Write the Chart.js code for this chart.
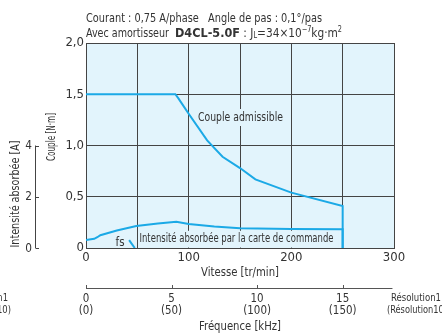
<!DOCTYPE html>
<html><head><meta charset="utf-8">
<script src="https://cdn.jsdelivr.net/npm/chart.js@4/dist/chart.umd.min.js"></script>
<style>html,body{margin:0;padding:0;background:#fff}#wrap{width:442px;height:334px}</style>
</head><body><div id="wrap"><canvas id="c" width="442" height="334"></canvas></div>
<script>
// Data
const torqueSpeed = [0, 87, 90, 100, 118, 133, 150, 165, 200, 250, 250];
const torqueValues = [1.5, 1.5, 1.46, 1.31, 1.05, 0.89, 0.78, 0.67, 0.54, 0.41, 0];
const currentSpeed = [0, 8, 11, 14, 30, 49, 70, 88, 100, 125, 150, 200, 250, 250];
const currentValues = [0.31, 0.36, 0.42, 0.5, 0.68, 0.86, 0.96, 1.02, 0.94, 0.84, 0.77, 0.74, 0.73, 0];
const fsSpeed = [42, 47.5];
const fsValues = [0.31, 0];
const yTicks = [0, 0.5, 1.0, 1.5, 2.0];
const xTickLabels = [0, 100, 200, 300];
const currentTicks = [0, 2, 4];
const freqTicks = [0, 5, 10, 15];
const freqAltTicks = ['(0)', '(50)', '(100)', '(150)'];

const NARROW = '"DejaVu Sans Condensed", "Liberation Sans Narrow", sans-serif';
const TXT = '#333';
const LINE = '#1BA9E6';
const BG = '#E2F4FC';
Chart.defaults.font.family = NARROW;
Chart.defaults.color = TXT;

const pts = (xs, ys) => xs.map((x, i) => ({x, y: ys[i]}));

// draw text horizontally squeezed: either fit to width w, or by factor k
function txt(ctx, t, x, y, o) {
  o = o || {};
  const m = ctx.measureText(t).width;
  const s = o.w ? o.w / m : (o.k || 1);
  ctx.save();
  ctx.translate(x, y);
  if (o.rot) ctx.rotate(o.rot);
  ctx.scale(s, 1);
  ctx.textAlign = o.align || 'left';
  ctx.fillText(t, 0, 0);
  ctx.restore();
  return m * s;
}

const deco = {
  id: 'deco',
  beforeDraw(chart) {
    const {ctx, chartArea: a} = chart;
    ctx.save();
    ctx.fillStyle = BG;
    ctx.fillRect(a.left, a.top, a.right - a.left, a.bottom - a.top);
    ctx.restore();
  },
  beforeDatasetsDraw(chart) {
    const {ctx} = chart;
    const x = chart.scales.x, y = chart.scales.y;
    ctx.save();
    ctx.fillStyle = BG;
    ctx.fillRect(x.getPixelForValue(50) + 1, 230.8, 200, y.getPixelForValue(0) - 231.3);
    ctx.fillRect(197, 109, 88, 17);
    ctx.fillStyle = TXT;
    ctx.textBaseline = 'middle';
    ctx.font = '13px ' + NARROW;
    txt(ctx, 'Couple admissible', 198, 117.5, {w: 85});
    ctx.font = '13px ' + NARROW;
    txt(ctx, 'Intensité absorbée par la carte de commande', 139.5, 238.5, {w: 194});
    txt(ctx, 'fs', 115.5, 242.5, {w: 9});
    ctx.restore();
  },
  afterDraw(chart) {
    const {ctx} = chart;
    const x = chart.scales.x, y2 = chart.scales.y2;
    ctx.save();
    ctx.fillStyle = TXT;
    ctx.strokeStyle = '#444';
    ctx.lineWidth = 1;
    // titles
    ctx.textBaseline = 'alphabetic';
    ctx.font = '13px ' + NARROW;
    txt(ctx, 'Courant : 0,75 A/phase   Angle de pas : 0,1°/pas', 86, 21.5, {w: 236});
    const by = 36.5;
    ctx.font = '13px ' + NARROW;
    txt(ctx, 'Avec amortisseur', 86, by, {w: 83});
    ctx.font = 'bold 12px "DejaVu Sans", sans-serif';
    txt(ctx, 'D4CL-5.0F', 175, by, {w: 65});
    const rest = [[' : J', 13, 0], ['L', 8, 1], ['=34×10', 13, 0], ['−7', 8, -5], ['kg·m', 13, 0], ['2', 8, -5]];
    let nat = 0;
    rest.forEach(r => { ctx.font = r[1] + 'px ' + NARROW; nat += ctx.measureText(r[0]).width; });
    const k = 102 / nat;
    let cx = 240;
    rest.forEach(r => { ctx.font = r[1] + 'px ' + NARROW; cx += txt(ctx, r[0], cx, by + r[2], {k}); });

    // current axis (left)
    const ax = 35.5;
    ctx.beginPath();
    ctx.moveTo(ax, y2.getPixelForValue(0));
    ctx.lineTo(ax, y2.getPixelForValue(4));
    currentTicks.forEach(v => {
      const py = Math.round(y2.getPixelForValue(v)) + 0.5;
      ctx.moveTo(ax, py); ctx.lineTo(ax + 3.5, py);
    });
    ctx.stroke();
    ctx.font = '13px ' + NARROW;
    ctx.textBaseline = 'middle';
    currentTicks.forEach(v => txt(ctx, String(v), 32, y2.getPixelForValue(v) + (v === 0 ? 1 : 0), {align: 'right', k: 0.9}));

    // rotated axis titles
    ctx.font = '13px ' + NARROW;
    txt(ctx, 'Intensité absorbée [A]', 16, 194, {align: 'center', rot: -Math.PI / 2, w: 107});
    txt(ctx, 'Couple [N·m]', 52, 137, {align: 'center', rot: -Math.PI / 2, w: 48});

    // speed title
    txt(ctx, 'Vitesse [tr/min]', 240, 273, {align: 'center', w: 78});

    // frequency axis
    const fy = 288.5;
    const fpx = f => x.getPixelForValue(f * 250 / 15);
    ctx.beginPath();
    ctx.moveTo(fpx(0), fy); ctx.lineTo(x.getPixelForValue(298.5), fy);
    freqTicks.forEach(f => { const px = Math.round(fpx(f)) + 0.5; ctx.moveTo(px, fy); ctx.lineTo(px, fy - 3.5); });
    ctx.strokeStyle = '#555';
    ctx.stroke();
    ctx.font = '13px ' + NARROW;
    freqTicks.forEach((f, i) => {
      txt(ctx, String(f), fpx(f), 298.5, {align: 'center', k: 0.88});
      txt(ctx, freqAltTicks[i], fpx(f), 310.5, {align: 'center', k: 0.88});
    });
    txt(ctx, 'Fréquence [kHz]', 240, 327, {align: 'center', w: 82});

    // resolution side notes
    ctx.font = '11px ' + NARROW;
    txt(ctx, 'Résolution1', 391, 298, {w: 50});
    txt(ctx, '(Résolution10)', 387, 310, {w: 60});
    txt(ctx, 'Résolution1', 8, 298, {align: 'right', k: 0.85});
    txt(ctx, '(Résolution10)', 11, 310, {align: 'right', k: 0.85});
    ctx.restore();
  }
};

new Chart(document.getElementById('c'), {
  type: 'line',
  data: {
    datasets: [
      {data: pts(torqueSpeed, torqueValues), yAxisID: 'y', borderColor: LINE, borderWidth: 2, pointRadius: 0, tension: 0, fill: false},
      {data: pts(currentSpeed, currentValues), yAxisID: 'y2', borderColor: LINE, borderWidth: 2, pointRadius: 0, tension: 0, fill: false},
      {data: pts(fsSpeed, fsValues), yAxisID: 'y2', borderColor: LINE, borderWidth: 2, pointRadius: 0, tension: 0, fill: false}
    ]
  },
  options: {
    responsive: false,
    animation: false,
    events: [],
    layout: {padding: {top: 43, right: 48, left: 0, bottom: 0}},
    plugins: {legend: {display: false}, tooltip: {enabled: false}, title: {display: false}},
    scales: {
      x: {
        type: 'linear', min: 0, max: 300,
        afterBuildTicks: s => { s.ticks = [0, 50, 100, 150, 200, 250, 300].map(v => ({value: v})); },
        ticks: {callback: v => xTickLabels.includes(v) ? String(v) : '', maxRotation: 0, autoSkip: false, padding: 2, font: {size: 13}, color: TXT},
        grid: {color: '#444', lineWidth: 1, drawTicks: false},
        border: {color: '#444', width: 1},
        afterFit: s => { s.height = 86; }
      },
      y: {
        type: 'linear', min: 0, max: 2,
        afterBuildTicks: s => { s.ticks = yTicks.map(v => ({value: v})); },
        ticks: {callback: v => v === 0 ? '0' : v.toFixed(1).replace('.', ','), padding: 2, font: {size: 13}, color: TXT},
        grid: {color: '#444', lineWidth: 1, drawTicks: false},
        border: {color: '#444', width: 1},
        afterFit: s => { s.width = 86; }
      },
      y2: {type: 'linear', min: 0, max: 8, display: false}
    }
  },
  plugins: [deco]
});
</script></body></html>
